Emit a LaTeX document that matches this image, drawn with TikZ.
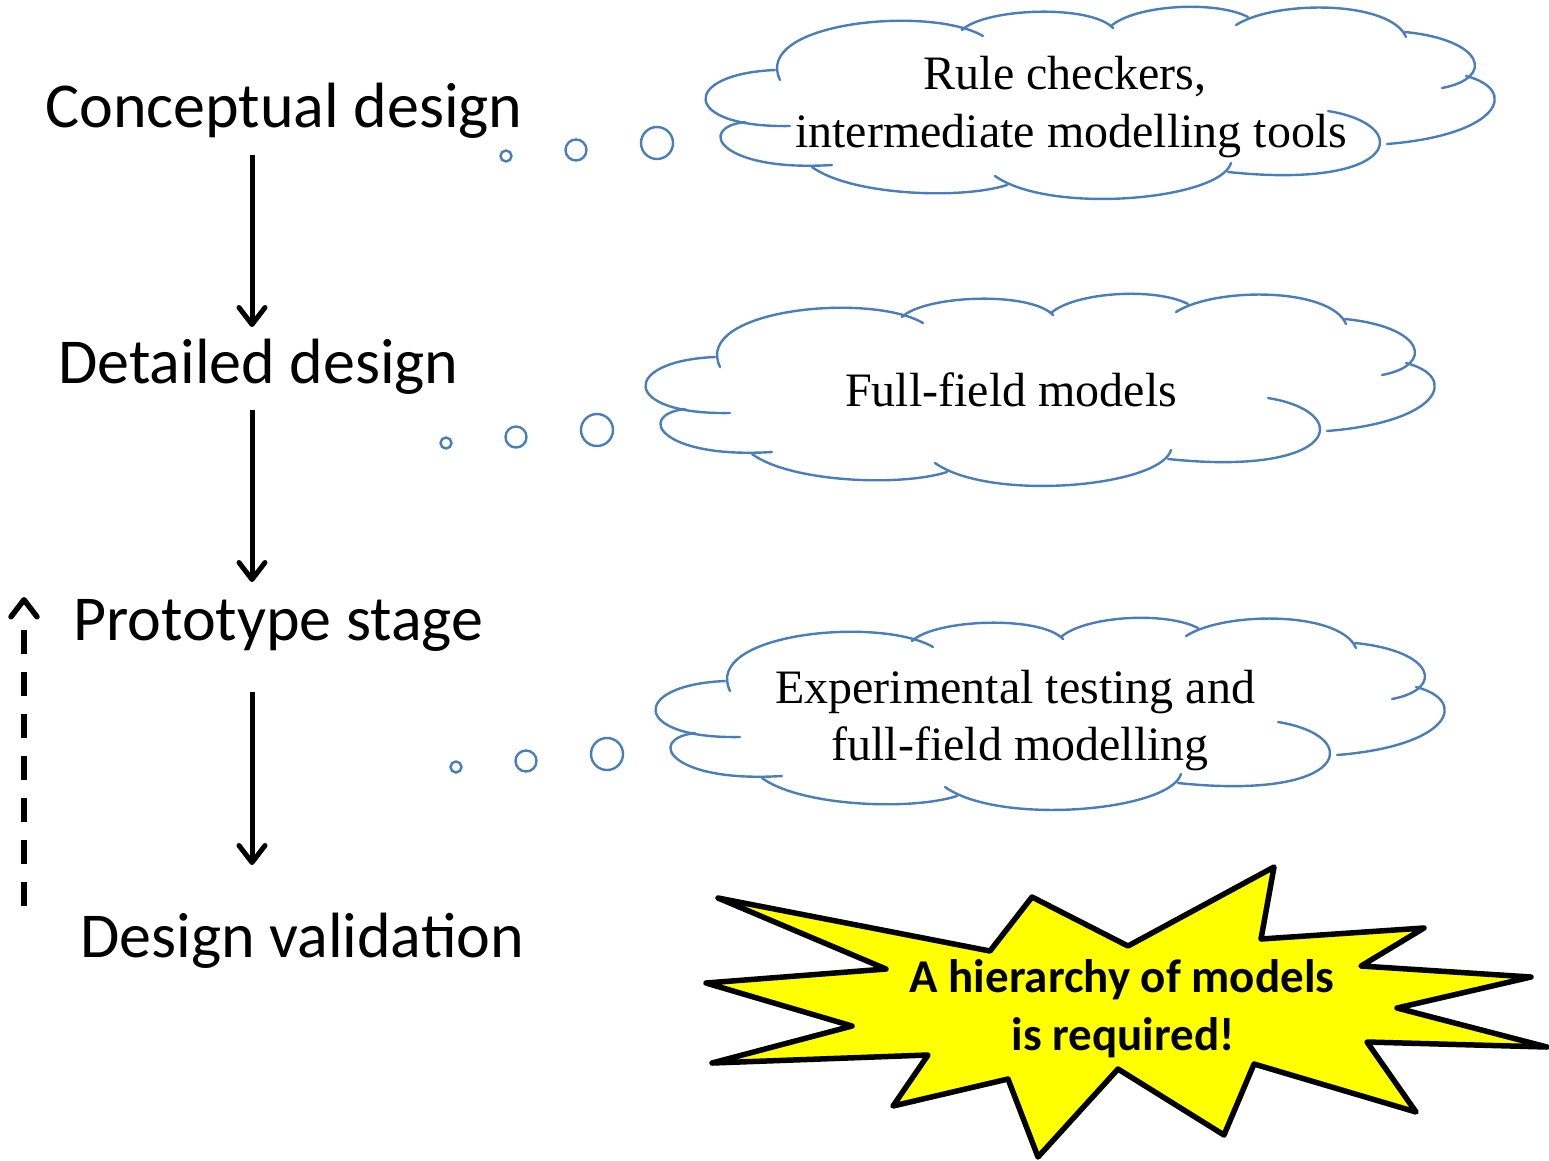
\documentclass[tikz,border=0pt]{standalone}
\usepackage{fontspec}
\setmainfont{Carlito}
\newfontfamily\seriffont{Liberation Serif}
\usetikzlibrary{arrows.meta}
\definecolor{cloudblue}{RGB}{74,126,187}
\definecolor{burstyellow}{RGB}{255,255,0}
\newcommand{\thoughtcloud}{%
  \draw[cloudline] (790,126) .. controls (680,128) and (680,74) .. (775,70);
  \draw[cloudline] (780,80) .. controls (752,22) and (930,5) .. (983,36);
  \draw[cloudline] (962,30) .. controls (985,8) and (1090,4) .. (1113,28);
  \draw[cloudline] (1111,26) .. controls (1135,5) and (1215,0) .. (1248,17);
  \draw[cloudline] (1236,25) .. controls (1275,0) and (1390,0) .. (1406,37);
  \draw[cloudline] (1405,32) .. controls (1485,40) and (1495,78) .. (1442,88);
  \draw[cloudline] (1466,76) .. controls (1520,90) and (1500,135) .. (1387,144);
  \draw[cloudline] (1328,111) .. controls (1415,125) and (1400,190) .. (1228,172);
  \draw[cloudline] (1231,163) .. controls (1220,200) and (1050,215) .. (995,176);
  \draw[cloudline] (1007,185) .. controls (960,200) and (850,195) .. (812,167);
  \draw[cloudline] (832,165) .. controls (720,172) and (695,128) .. (745,122);
  \draw[bubble] (506,156) circle (5.5pt) (576,150) circle (10.5pt) (657,143) circle (16pt);
}
\begin{document}
\begin{tikzpicture}[x=1pt,y=-1pt,
  lbl/.style={anchor=base west,inner sep=0pt,font=\fontsize{64}{76}\selectfont},
  ctext/.style={anchor=base,inner sep=0pt,font=\seriffont\fontsize{48}{58}\selectfont},
  stext/.style={anchor=base,inner sep=0pt,font=\bfseries\fontsize{47}{58}\selectfont},
  tip/.style={-{Straight Barb[length=17pt,width=26pt,round]}},
  flow/.style={line width=5pt,tip},
  bubble/.style={draw=cloudblue,line width=2.4pt},
  cloudline/.style={draw=cloudblue,line width=2.4pt,line cap=round},
  starshape/.style={draw=black,fill=burstyellow,line width=5.5pt,line join=round},
]
\useasboundingbox (0,0) rectangle (1549,1160);

% stage labels
\node[lbl] (cd) at (45,127) {Conceptual design};
\node[lbl] (dd) at (58,383) {Detailed design};
\node[lbl] (ps) at (73,640) {Prototype stage};
\node[lbl] (dv) at (80,957) {Design validation};

% flow arrows
\coordinate (a1s) at (252,155); \coordinate (a1e) at (252,327);
\coordinate (a2s) at (252,410); \coordinate (a2e) at (252,582);
\coordinate (a3s) at (252,692); \coordinate (a3e) at (252,865);
\draw[flow] (a1s) -- (a1e);
\draw[flow] (a2s) -- (a2e);
\draw[flow] (a3s) -- (a3e);

% feedback dashed arrow
\coordinate (fbA) at (24,906); \coordinate (fbB) at (24,597);
\draw[line width=5.5pt,tip,
  dash pattern=on 24pt off 18pt on 24pt off 18pt on 24pt off 18pt on 24pt off 18pt on 24pt off 18pt on 24pt off 18pt on 24pt off 60pt]
  (fbA) -- (fbB);

% clouds
\thoughtcloud
\begin{scope}[shift={(-60,287)}]
  \thoughtcloud
\end{scope}
\begin{scope}[shift={(-50,611)}]
  \thoughtcloud
\end{scope}

\node[ctext] (c1a) at (1065,89) {Rule checkers,};
\node[ctext] (c1b) at (1071,147) {intermediate modelling tools};
\node[ctext] (c2) at (1011,406) {Full-field models};
\node[ctext] (c3a) at (1015,703) {Experimental testing and};
\node[ctext] (c3b) at (1020,760) {full-field modelling};

% explosion
\draw[starshape] (718,898) -- (990,951) -- (1032,897) -- (1128,946) -- (1274,867)
  -- (1261,939) -- (1424,928) -- (1361,966) -- (1531,977) -- (1397,1008)
  -- (1547,1047) -- (1367,1042) -- (1416,1112) -- (1254,1064) -- (1224,1135)
  -- (1118,1069) -- (1038,1157) -- (1008,1079) -- (893,1106) -- (928,1055)
  -- (712,1063) -- (852,1026) -- (706,983) -- (886,969) -- cycle;
\node[stext] (s1) at (1122,992) {A hierarchy of models};
\node[stext] (s2) at (1123,1050) {is required!};
\end{tikzpicture}
\end{document}
